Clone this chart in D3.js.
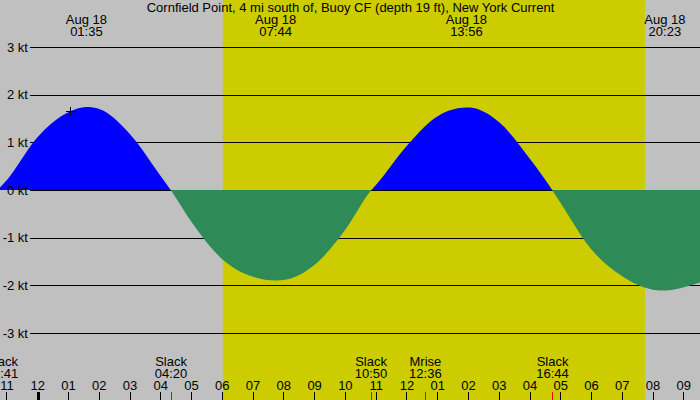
<!DOCTYPE html>
<html><head><meta charset="utf-8">
<script src="https://cdn.jsdelivr.net/npm/d3@7"></script>
<style>
html,body{margin:0;padding:0;background:#c0c0c0;}
svg{display:block;}
text{font-family:"Liberation Sans",Arial,sans-serif;font-size:13px;fill:#000;}
</style></head>
<body>
<svg id="chart" width="700" height="400"></svg>
<script>
// ---- data ----
const title = "Cornfield Point, 4 mi south of, Buoy CF (depth 19 ft), New York Current";
const curveTimes = ["2024-08-17 22:41","2024-08-17 23:00","2024-08-18 00:00","2024-08-18 01:00","2024-08-18 01:35",
  "2024-08-18 02:00","2024-08-18 03:00","2024-08-18 04:00","2024-08-18 04:20","2024-08-18 05:00","2024-08-18 06:00",
  "2024-08-18 07:00","2024-08-18 07:44","2024-08-18 08:00","2024-08-18 09:00","2024-08-18 10:00","2024-08-18 10:50",
  "2024-08-18 11:00","2024-08-18 12:00","2024-08-18 13:00","2024-08-18 13:56","2024-08-18 14:00","2024-08-18 15:00",
  "2024-08-18 16:00","2024-08-18 16:44","2024-08-18 17:00","2024-08-18 18:00","2024-08-18 19:00","2024-08-18 20:00",
  "2024-08-18 20:23","2024-08-18 21:00","2024-08-18 21:40"];
const curveSpeeds = [0.00,0.22,1.12,1.64,1.75,1.71,1.18,0.30,0.00,-0.66,-1.44,-1.81,-1.89,-1.88,-1.56,-0.82,0.00,
  0.12,0.94,1.56,1.74,1.74,1.43,0.66,0.00,-0.27,-1.24,-1.80,-2.08,-2.10,-2.03,-1.90];
const peakTimes = ["2024-08-18 01:35","2024-08-18 07:44","2024-08-18 13:56","2024-08-18 20:23"];
const peakDates = ["Aug 18","Aug 18","Aug 18","Aug 18"];
const eventTimes = ["2024-08-17 22:41","2024-08-18 04:20","2024-08-18 10:50","2024-08-18 12:36","2024-08-18 16:44"];
const eventNames = ["Slack","Slack","Slack","Mrise","Slack"];
const yTicks = [3,2,1,0,-1,-2,-3];
const sunrise = "2024-08-18 06:01";
const sunset = "2024-08-18 19:44";
const nowTime = "2024-08-18 01:03";
const nowSpeed = 1.66;
const domainStart = "2024-08-17 22:46:30";
const domainEnd = "2024-08-18 21:31:30";

// ---- drawing ----
const parse = s => { const [d,t]=s.split(" "); const [Y,M,D]=d.split("-").map(Number); const p=t.split(":").map(Number); return new Date(Y,M-1,D,p[0],p[1],p[2]||0); };
const W=700,H=400;
const svg=d3.select("#chart");
const x=d3.scaleTime().domain([parse(domainStart),parse(domainEnd)]).range([0,W]);
const y=d3.scaleLinear().domain([-3,3]).range([333.5,47.5]);
const crisp=v=>Math.floor(v)+0.5;
const fmt=d3.timeFormat("%H:%M");

svg.append("rect").attr("width",W).attr("height",H).attr("fill","#c0c0c0");
svg.append("rect").attr("x",x(parse(sunrise))).attr("y",0)
  .attr("width",x(parse(sunset))-x(parse(sunrise))).attr("height",H).attr("fill","#cccc00");

// grid lines (under fills)
svg.append("g").selectAll("line").data(yTicks.filter(d=>d!==0)).join("line")
  .attr("x1",30).attr("x2",W).attr("y1",d=>crisp(y(d))).attr("y2",d=>crisp(y(d)))
  .attr("stroke","#000").attr("stroke-width",1).attr("shape-rendering","crispEdges");

const pts=curveTimes.map((t,i)=>({t:parse(t),v:curveSpeeds[i]}));
const zeroTop=Math.floor(y(0));
const defs=svg.append("defs");
defs.append("clipPath").attr("id","cpPos").append("rect").attr("x",0).attr("y",0).attr("width",W).attr("height",zeroTop);
defs.append("clipPath").attr("id","cpNeg").append("rect").attr("x",0).attr("y",zeroTop).attr("width",W).attr("height",H-zeroTop);

const areaPos=d3.area().x(d=>x(d.t)).y0(zeroTop+1).y1(d=>y(d.v)).curve(d3.curveMonotoneX);
const areaNeg=d3.area().x(d=>x(d.t)).y0(zeroTop).y1(d=>y(d.v)).curve(d3.curveMonotoneX);
svg.append("path").datum(pts).attr("d",areaPos).attr("fill","#0000ff").attr("clip-path","url(#cpPos)");
svg.append("line").attr("x1",30).attr("x2",W).attr("y1",zeroTop+0.5).attr("y2",zeroTop+0.5)
  .attr("stroke","#000").attr("stroke-width",1).attr("shape-rendering","crispEdges");
svg.append("path").datum(pts).attr("d",areaNeg).attr("fill","#2e8b57").attr("clip-path","url(#cpNeg)");

// y labels
svg.append("g").selectAll("text").data(yTicks).join("text")
  .attr("x",28).attr("y",d=>y(d)+4).attr("text-anchor","end").text(d=>d+" kt");

// title
svg.append("text").attr("x",350.5).attr("y",11.5).attr("text-anchor","middle").text(title);

// peak labels
const pk=svg.append("g").selectAll("g").data(peakTimes).join("g");
pk.append("text").attr("x",d=>x(parse(d))).attr("y",24).attr("text-anchor","middle").text((d,i)=>peakDates[i]);
pk.append("text").attr("x",d=>x(parse(d))).attr("y",36).attr("text-anchor","middle").text(d=>fmt(parse(d)));

// current marker
const nx=x(parse(nowTime)), ny=y(nowSpeed);
svg.append("path").attr("d",`M${Math.round(nx)-4},${Math.round(ny)+0.5}h9M${Math.round(nx)+0.5},${Math.round(ny)-4}v9`)
  .attr("stroke","#000").attr("stroke-width",1).attr("fill","none").attr("shape-rendering","crispEdges");

// bottom events (labels kept partly on-screen near the left edge)
const lx=d=>Math.max(x(parse(d)),2);
const ev=svg.append("g").selectAll("g").data(eventTimes).join("g");
ev.append("text").attr("x",lx).attr("y",366).attr("text-anchor","middle").text((d,i)=>eventNames[i]);
ev.append("text").attr("x",lx).attr("y",378).attr("text-anchor","middle").text(d=>fmt(parse(d)));
ev.append("line").attr("x1",d=>crisp(x(parse(d)))).attr("x2",d=>crisp(x(parse(d)))).attr("y1",392).attr("y2",H)
  .attr("stroke","#ff0000").attr("stroke-width",1).attr("shape-rendering","crispEdges");

// hour axis
const hours=d3.timeHour.range(x.domain()[0],x.domain()[1]);
const hg=svg.append("g").selectAll("g").data(hours).join("g");
hg.append("text").attr("x",d=>x(d)).attr("y",390).attr("text-anchor","middle").text(d3.timeFormat("%I"));
hg.append("line").attr("x1",d=>d.getHours()===0?Math.round(x(d)):crisp(x(d)))
  .attr("x2",d=>d.getHours()===0?Math.round(x(d)):crisp(x(d)))
  .attr("y1",392).attr("y2",H).attr("stroke","#000")
  .attr("stroke-width",d=>d.getHours()===0?3:1).attr("shape-rendering","crispEdges");
</script>
</body></html>
